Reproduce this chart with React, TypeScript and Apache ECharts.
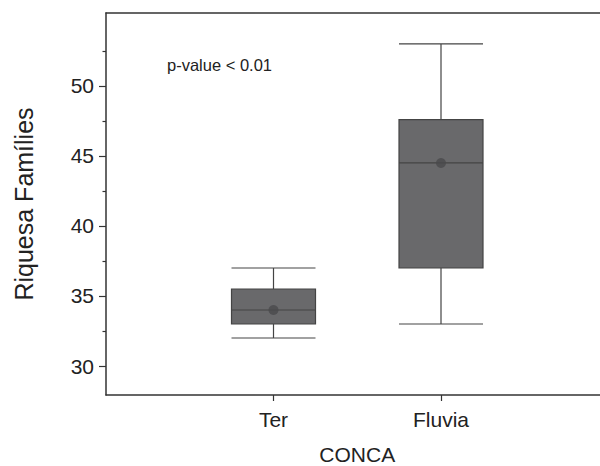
import React, { useEffect, useRef } from "react";
import * as echarts from "echarts";

const categories = ["Ter", "Fluvia"];
const whiskerLow = [32, 33];
const q1 = [33, 37];
const median = [34, 44.5];
const q3 = [35.5, 47.6];
const whiskerHigh = [37, 53];
const means = [34, 44.5];
const majorTicks = [30, 35, 40, 45, 50];
const minorTicks = [32.5, 37.5, 42.5, 47.5, 52.5];
const axisCategories = ["", ...categories, ""];

const FONT = "'Liberation Sans', Arial, sans-serif";
const AXIS = "#333";

export default function App() {
  const ref = useRef<HTMLDivElement>(null);
  useEffect(() => {
    const chart = echarts.init(ref.current!, null, { renderer: "svg" });
    const boxData = categories.map((c, i) => [c, whiskerLow[i], q1[i], median[i], q3[i], whiskerHigh[i]]);
    const meanData = categories.map((c, i) => [c, means[i]]);
    const yCommon = {
      type: "value",
      min: 27.93,
      max: 55.21,
      position: "left",
      splitLine: { show: false },
    };
    chart.setOption({
      animation: false,
      grid: {
        left: 106,
        right: -8.5,
        top: 13,
        bottom: 71,
        outerBoundsMode: "none",
        containLabel: false,
        show: false,
      },
      xAxis: [
        {
          type: "category",
          data: axisCategories,
          boundaryGap: false,
          position: "bottom",
          name: "CONCA",
          nameLocation: "middle",
          nameGap: 49,
          nameTextStyle: { fontFamily: FONT, fontSize: 21, color: "#222" },
          axisLine: { lineStyle: { color: AXIS, width: 1.5 } },
          axisTick: {
            length: 6,
            interval: (i: number) => i === 1 || i === 2,
            lineStyle: { color: AXIS, width: 1.2 },
          },
          axisLabel: {
            interval: (i: number) => i === 1 || i === 2,
            margin: 14,
            fontFamily: FONT,
            fontSize: 21,
            color: "#222",
          },
          splitLine: { show: false },
        },
        {
          type: "category",
          data: axisCategories,
          boundaryGap: false,
          position: "top",
          axisLine: { show: true, lineStyle: { color: AXIS, width: 1.5 } },
          axisTick: { show: false },
          axisLabel: { show: false },
          splitLine: { show: false },
        },
      ],
      yAxis: [
        {
          ...yCommon,
          name: "Riquesa Famílies",
          nameLocation: "middle",
          nameGap: 70,
          nameTextStyle: { fontFamily: FONT, fontSize: 25, color: "#222" },
          axisLine: { show: true, lineStyle: { color: AXIS, width: 1.5 } },
          axisTick: {
            show: true,
            length: 7,
            customValues: majorTicks,
            lineStyle: { color: AXIS, width: 1.2 },
          },
          axisLabel: {
            customValues: majorTicks,
            margin: 12,
            fontFamily: FONT,
            fontSize: 21,
            color: "#222",
          },
        },
        {
          ...yCommon,
          axisLine: { show: false },
          axisTick: {
            show: true,
            length: 3.5,
            customValues: minorTicks,
            lineStyle: { color: AXIS, width: 1.2 },
          },
          axisLabel: { show: false },
        },
      ],
      graphic: [
        {
          type: "text",
          left: 167,
          top: 56,
          style: {
            text: "p-value < 0.01",
            fontFamily: FONT,
            fontSize: 16.5,
            fill: "#222",
          },
        },
      ],
      series: [
        {
          type: "boxplot",
          data: boxData,
          encode: { x: 0, y: [1, 2, 3, 4, 5] },
          boxWidth: [84, 84],
          itemStyle: { color: "#69696b", borderColor: "#444", borderWidth: 1.2 },
          emphasis: { disabled: true },
        },
        {
          type: "scatter",
          data: meanData,
          symbol: "circle",
          symbolSize: 10,
          itemStyle: { color: "#4a4a4c" },
          z: 5,
        },
      ],
    });
    return () => chart.dispose();
  }, []);
  return (
    <div
      ref={ref}
      style={{ position: "absolute", left: 0, top: 0, width: 600, height: 466 }}
    />
  );
}
